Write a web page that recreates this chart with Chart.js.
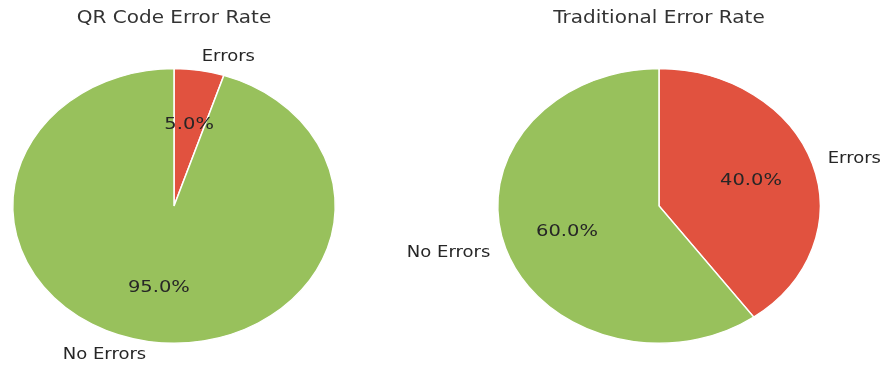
<!DOCTYPE html>
<html>
<head>
<meta charset="utf-8">
<script src="https://cdn.jsdelivr.net/npm/chart.js@4"></script>
<style>
  html, body { margin: 0; padding: 0; background: #fff; overflow: hidden; }
  #stage { position: relative; width: 884px; height: 366px; overflow: hidden; }
  /* boxes are laid out 430px tall; the squash plugin draws them into the top 366px */
  .box { position: absolute; top: 0; height: 430px; }
  #left-box { left: 0; width: 348px; }
  #right-box { left: 380px; width: 504px; }
</style>
</head>
<body>
<div id="stage">
  <div class="box" id="left-box"><canvas id="qr-chart"></canvas></div>
  <div class="box" id="right-box"><canvas id="trad-chart"></canvas></div>
</div>
<script>
// pie data
const labels = ['Errors', 'No Errors'];
const qrValues = [5, 95];
const tradValues = [40, 60];
const titles = ['QR Code Error Rate', 'Traditional Error Rate'];
const colors = ['#e1523f', '#98c15c'];

const FONT = "'DejaVu Sans', sans-serif";
const TEXT = '#262626';
// the reference figure is squashed vertically (pies are ellipses)
const SQUASH = 366 / 430;

const squash = {
  id: 'squash',
  beforeDraw(chart) {
    chart.ctx.save();
    chart.ctx.scale(1, SQUASH);
  },
  afterDraw(chart) {
    chart.ctx.restore();
  }
};

// matplotlib-style labels: name at 1.1r, percentage at 0.6r
const pieLabels = {
  id: 'pieLabels',
  afterDatasetsDraw(chart) {
    const ctx = chart.ctx;
    const meta = chart.getDatasetMeta(0);
    const data = chart.data.datasets[0].data;
    const total = data.reduce((a, b) => a + b, 0);
    ctx.save();
    ctx.fillStyle = TEXT;
    ctx.textBaseline = 'middle';
    meta.data.forEach((arc, i) => {
      const p = arc.getProps(['x', 'y', 'startAngle', 'endAngle', 'outerRadius'], true);
      const mid = (p.startAngle + p.endAngle) / 2;
      const c = Math.cos(mid), s = Math.sin(mid);
      const r = p.outerRadius;

      ctx.font = '19.5px ' + FONT;
      ctx.textAlign = 'center';
      ctx.fillText((data[i] / total * 100).toFixed(1) + '%', p.x + c * 0.6 * r, p.y + s * 0.6 * r);

      ctx.font = '18px ' + FONT;
      ctx.textAlign = c >= 0 ? 'left' : 'right';
      ctx.fillText(chart.data.labels[i], p.x + c * 1.1 * r, p.y + s * 1.1 * r);
    });
    ctx.restore();
  }
};

function makePie(id, values, title, padLeft, padRight) {
  return new Chart(document.getElementById(id), {
    type: 'pie',
    data: {
      labels,
      datasets: [{
        data: values,
        backgroundColor: colors,
        borderColor: '#ffffff',
        borderWidth: 1.5,
        hoverOffset: 0,
      }],
    },
    options: {
      responsive: true,
      maintainAspectRatio: false,
      animation: false,
      events: [],
      layout: { padding: { left: padLeft, right: padRight, top: 0, bottom: 26 } },
      plugins: {
        legend: { display: false },
        tooltip: { enabled: false },
        title: {
          display: true,
          text: title,
          color: '#333333',
          font: { family: FONT, size: 20, weight: 'normal', lineHeight: 1.2 },
          padding: { top: 10, bottom: 46 },
        },
      },
    },
    plugins: [squash, pieLabels],
  });
}

makePie('qr-chart', qrValues, titles[0], 12, 12);
// right pie is centred at x=659, so pad the wider box unevenly
makePie('trad-chart', tradValues, titles[1], 117, 63);
</script>
</body>
</html>
